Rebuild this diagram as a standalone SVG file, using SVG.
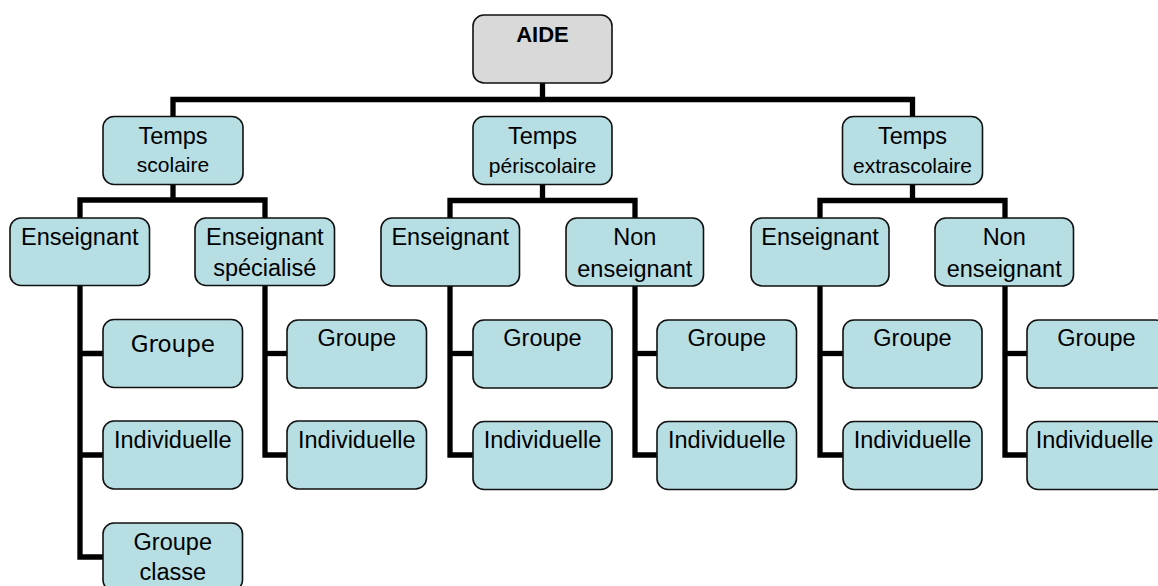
<svg xmlns="http://www.w3.org/2000/svg" width="1158" height="586" viewBox="0 0 1158 586">
<style>
.box{fill:#b7dee2;stroke:#111;stroke-width:1.6}
.root{fill:#d9d9d9;stroke:#111;stroke-width:1.6}
.t{font-family:"Liberation Sans",Arial,sans-serif;font-size:23.5px;fill:#000;text-anchor:middle}
.s{font-family:"Liberation Sans",Arial,sans-serif;font-size:21px;fill:#000;text-anchor:middle}
.b{font-family:"Liberation Sans",Arial,sans-serif;font-size:22px;font-weight:bold;fill:#000;text-anchor:middle}
.d{font-family:"DejaVu Sans",Verdana,sans-serif;font-size:23px;fill:#000;text-anchor:middle}
.c{fill:none;stroke:#000;stroke-width:5.3;stroke-linejoin:miter;stroke-linecap:butt}
</style>
<rect width="1158" height="586" fill="#fff"/>
<g id="connectors">
<path class="c" d="M542.5,83 V99.5"/>
<path class="c" d="M173,116 V99.5 H912.5 V116"/>
<path class="c" d="M173,184 V200"/>
<path class="c" d="M80,218 V200 H265 V218"/>
<path class="c" d="M542.5,185 V200.5"/>
<path class="c" d="M450,218 V200.5 H635 V218"/>
<path class="c" d="M912.5,184 V200.5"/>
<path class="c" d="M820,218 V200.5 H1005 V218"/>
<path class="c" d="M80,285 V557 H103"/>
<path class="c" d="M80,353.5 H103 M80,455 H103"/>
<path class="c" d="M265,285 V455 H287"/>
<path class="c" d="M265,353.5 H287"/>
<path class="c" d="M450,286 V455 H473"/>
<path class="c" d="M450,353.5 H473"/>
<path class="c" d="M635,286 V455 H657"/>
<path class="c" d="M635,353.5 H657"/>
<path class="c" d="M820,286 V455 H843"/>
<path class="c" d="M820,353.5 H843"/>
<path class="c" d="M1005,286 V455 H1027"/>
<path class="c" d="M1005,353.5 H1027"/>
</g>
<g id="aide"><rect class="root" x="473" y="15" width="139" height="68" rx="11"/><text class="b" x="542.5" y="42">AIDE</text></g>
<g id="temps-scolaire"><rect class="box" x="103" y="116.5" width="140" height="68" rx="11"/><text class="t" x="173" y="143.5">Temps</text><text class="s" x="173" y="172">scolaire</text></g>
<g id="temps-periscolaire"><rect class="box" x="473" y="116.5" width="139" height="68" rx="11"/><text class="t" x="542.5" y="143.5">Temps</text><text class="s" x="542.5" y="172.5">périscolaire</text></g>
<g id="temps-extrascolaire"><rect class="box" x="842.5" y="116.5" width="140" height="68" rx="11"/><text class="t" x="912.5" y="143.5">Temps</text><text class="s" x="912.5" y="172.5">extrascolaire</text></g>
<g id="s-enseignant"><rect class="box" x="10" y="218" width="139.5" height="67.5" rx="11"/><text class="t" x="79.8" y="245">Enseignant</text></g>
<g id="s-specialise"><rect class="box" x="195" y="218" width="139.5" height="67.5" rx="11"/><text class="t" x="264.8" y="245">Enseignant</text><text class="t" x="264.8" y="275.5">spécialisé</text></g>
<g id="p-enseignant"><rect class="box" x="381" y="218" width="138.5" height="68" rx="11"/><text class="t" x="450.2" y="245">Enseignant</text></g>
<g id="p-non"><rect class="box" x="566" y="218" width="137.5" height="68" rx="11"/><text class="t" x="634.8" y="245">Non</text><text class="t" x="634.8" y="276.5">enseignant</text></g>
<g id="e-enseignant"><rect class="box" x="751" y="218" width="138" height="68" rx="11"/><text class="t" x="820" y="245">Enseignant</text></g>
<g id="e-non"><rect class="box" x="935" y="218" width="138.5" height="68" rx="11"/><text class="t" x="1004.2" y="245">Non</text><text class="t" x="1004.2" y="276.5">enseignant</text></g>
<g id="s1-groupe"><rect class="box" x="103" y="319.5" width="139.5" height="68" rx="11"/><text class="d" x="172.8" y="351.5">Groupe</text></g>
<g id="s1-indiv"><rect class="box" x="103" y="421" width="139.5" height="68" rx="11"/><text class="t" x="172.8" y="448">Individuelle</text></g>
<g id="s1-classe"><rect class="box" x="103" y="523" width="139.5" height="68" rx="11"/><text class="t" x="172.8" y="549.5">Groupe</text><text class="t" x="172.8" y="580">classe</text></g>
<g id="s2-groupe"><rect class="box" x="287" y="320" width="139.5" height="68" rx="11"/><text class="t" x="356.8" y="346">Groupe</text></g>
<g id="s2-indiv"><rect class="box" x="287" y="421" width="139.5" height="68" rx="11"/><text class="t" x="356.8" y="448">Individuelle</text></g>
<g id="p1-groupe"><rect class="box" x="473" y="320" width="139" height="68" rx="11"/><text class="t" x="542.5" y="346">Groupe</text></g>
<g id="p1-indiv"><rect class="box" x="473" y="421.5" width="139" height="68" rx="11"/><text class="t" x="542.5" y="448">Individuelle</text></g>
<g id="p2-groupe"><rect class="box" x="657" y="320" width="139.5" height="68" rx="11"/><text class="t" x="726.8" y="346">Groupe</text></g>
<g id="p2-indiv"><rect class="box" x="657" y="421.5" width="139.5" height="68" rx="11"/><text class="t" x="726.8" y="448">Individuelle</text></g>
<g id="e1-groupe"><rect class="box" x="843" y="320" width="139" height="68" rx="11"/><text class="t" x="912.5" y="346">Groupe</text></g>
<g id="e1-indiv"><rect class="box" x="843" y="421.5" width="139" height="68" rx="11"/><text class="t" x="912.5" y="448">Individuelle</text></g>
<g id="e2-groupe"><rect class="box" x="1027" y="320" width="139.5" height="68" rx="11"/><text class="t" x="1096.5" y="346">Groupe</text></g>
<g id="e2-indiv"><rect class="box" x="1027" y="421.5" width="139.5" height="68" rx="11"/><text class="t" x="1094.5" y="448">Individuelle</text></g>
</svg>
